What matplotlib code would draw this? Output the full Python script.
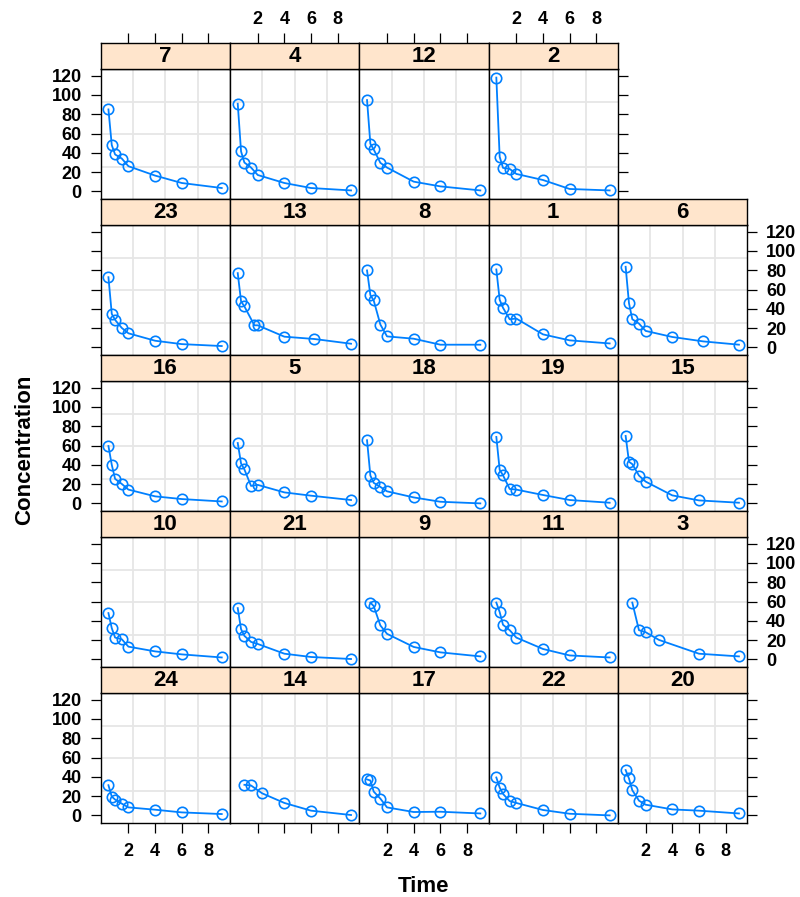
import matplotlib
matplotlib.use("Agg")
import matplotlib.pyplot as plt

plt.rcParams['font.family'] = ['Liberation Sans', 'DejaVu Sans']
plt.rcParams['font.weight'] = 'bold'

# subjects in panel order (top row first), None = empty slot
layout = [
    [7, 4, 12, 2, None],
    [23, 13, 8, 1, 6],
    [16, 5, 18, 19, 15],
    [10, 21, 9, 11, 3],
    [24, 14, 17, 22, 20],
]

std_times = [0.5, 0.75, 1, 1.5, 2, 4, 6, 9]
times = {s: std_times for s in range(1, 25)}
times[13] = [0.5, 0.75, 1, 1.75, 2, 4, 6.25, 9]
times[6] = [0.5, 0.75, 1, 1.5, 2, 4, 6.33, 9]
times[9] = [0.75, 1, 1.5, 2, 4, 6, 9]
times[3] = [1, 1.5, 2, 3, 6, 9]
times[14] = [1, 1.5, 2.33, 4, 6, 9]

conc = {
    7: [85.0, 48.0, 38.3, 34.1, 26.1, 16.4, 8.7, 3.5],
    4: [90.9, 41.4, 29.9, 24.7, 17.0, 8.7, 3.5, 1.0],
    12: [94.7, 49.4, 43.5, 29.6, 24.7, 10.1, 5.2, 1.0],
    2: [118.0, 35.9, 24.4, 23.3, 18.1, 11.8, 2.5, 1.0],
    23: [72.8, 34.8, 28.5, 20.2, 14.6, 6.9, 3.4, 1.4],
    13: [77.0, 47.7, 42.5, 22.9, 22.9, 11.1, 8.7, 3.8],
    8: [79.8, 54.3, 48.7, 23.7, 11.4, 9.0, 2.8, 2.8],
    1: [80.8, 49.4, 41.1, 29.2, 29.9, 13.5, 7.3, 4.1],
    6: [83.6, 45.9, 29.2, 24.7, 17.1, 10.8, 6.2, 2.8],
    16: [59.5, 40.0, 25.4, 20.2, 14.3, 7.3, 4.5, 2.0],
    5: [62.6, 41.4, 35.2, 18.1, 19.2, 11.4, 8.0, 3.5],
    18: [65.5, 28.9, 21.3, 17.1, 12.5, 6.2, 1.7, 0.0],
    19: [68.9, 34.8, 29.2, 15.0, 14.3, 8.7, 3.5, 0.7],
    15: [70.0, 43.2, 40.7, 28.9, 22.6, 8.3, 3.1, 0.7],
    10: [48.0, 32.4, 22.6, 20.9, 13.2, 8.3, 5.2, 2.0],
    21: [53.2, 31.3, 24.4, 18.1, 16.0, 5.9, 2.5, 0.4],
    9: [58.9, 55.3, 35.2, 26.5, 12.9, 7.3, 3.1],
    11: [58.9, 49.1, 35.9, 30.3, 22.6, 10.8, 4.1, 2.0],
    3: [58.9, 30.3, 28.2, 20.2, 5.9, 3.1],
    24: [31.3, 19.5, 16.4, 12.2, 8.3, 5.9, 3.1, 1.4],
    14: [31.7, 31.0, 22.9, 12.9, 4.9, 0.4],
    17: [37.3, 36.2, 24.7, 17.4, 8.3, 3.5, 3.8, 2.0],
    22: [39.3, 28.9, 22.3, 14.9, 12.9, 5.6, 1.7, 0.0],
    20: [47.0, 38.3, 26.1, 15.3, 11.1, 6.2, 4.9, 2.0],
}

xticks = [2, 4, 6, 8]
yticks = [0, 20, 40, 60, 80, 100, 120]
xlim = (-0.08, 9.62)
ylim = (-8.2, 126.6)

W, H = 800, 897
fig = plt.figure(figsize=(W / 100, H / 100), dpi=100)

left, right = 100.7, 747.2
top = 43.3
strip_h, panel_h = 26.0, 130.0
col_w = (right - left) / 5
row_h = strip_h + panel_h

blue = '#0080ff'
tick_kw = dict(direction='out', length=7.2, width=0.9, labelsize=13, colors='black')


def frac(x, y, w, h):
    # pixel box (top-left origin) -> figure fraction
    return [x / W, 1 - (y + h) / H, w / W, h / H]


for r, row in enumerate(layout):
    last = max(c for c, s in enumerate(row) if s is not None)
    for c, subj in enumerate(row):
        if subj is None:
            continue
        x0 = left + c * col_w
        y0 = top + r * row_h

        ax = fig.add_axes(frac(x0, y0 + strip_h, col_w, panel_h))
        ax.set_xlim(xlim)
        ax.set_ylim(ylim)
        for k in (1, 2, 3):
            ax.axvline(xlim[0] + k * (xlim[1] - xlim[0]) / 4, color='#e6e6e6', lw=1.3, zorder=0)
            ax.axhline(ylim[0] + k * (ylim[1] - ylim[0]) / 4, color='#e6e6e6', lw=1.3, zorder=0)
        ax.plot(times[subj], conc[subj], '-o', color=blue, lw=1.3,
                ms=7.5, mfc='none', mec=blue, mew=1.2, clip_on=False)
        for sp in ax.spines.values():
            sp.set_linewidth(1.0)

        ax.set_xticks(xticks)
        ax.set_yticks(yticks)
        ax.tick_params(axis='x', top=False, bottom=(r == 4),
                       labelbottom=(r == 4 and c in (0, 2, 4)), pad=7, **tick_kw)
        ax.tick_params(axis='y', left=(c == 0), labelleft=(c == 0 and r in (0, 2, 4)),
                       right=(c == last), labelright=(c == last and r in (1, 3)),
                       pad=6.5, **tick_kw)

        st = fig.add_axes(frac(x0, y0, col_w, strip_h))
        st.set_facecolor('#ffe5cc')
        st.set_xlim(xlim)
        st.set_yticks([])
        st.set_xticks(xticks)
        st.tick_params(axis='x', bottom=False, labelbottom=False, top=(r == 0),
                       labeltop=(r == 0 and c in (1, 3)), pad=4, **tick_kw)
        for sp in st.spines.values():
            sp.set_linewidth(1.0)
        st.text(0.5, 0.5, str(subj), transform=st.transAxes, ha='center', va='center',
                fontsize=16, fontweight='bold')

fig.text((left + right) / 2 / W, 1 - 886 / H, 'Time', ha='center', va='center',
         fontsize=16, fontweight='bold')
fig.text(25 / W, 1 - 450 / H, 'Concentration', ha='center', va='center',
         rotation=90, fontsize=16, fontweight='bold')

fig.savefig('out.png', dpi=100)
